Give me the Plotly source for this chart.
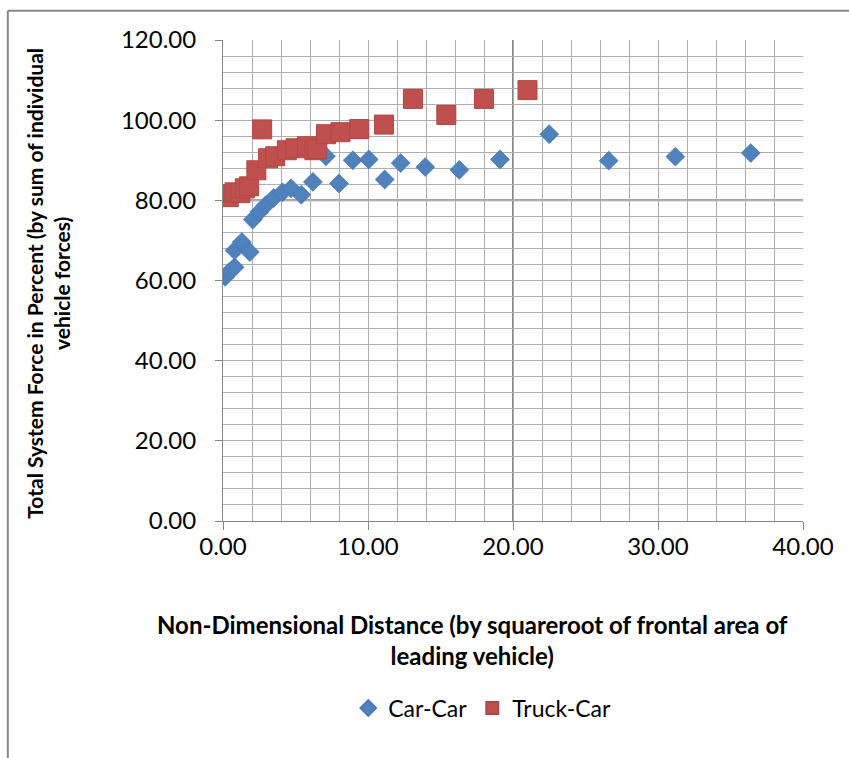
import plotly.graph_objects as go

# Car-Car measurements
car_x = [0.15, 0.45, 0.8, 0.8, 1.3, 1.85, 2.05, 2.5, 2.95, 3.5, 4.1, 4.7, 5.4, 6.2,
         7.1, 8.0, 8.95, 10.05, 11.15, 12.25, 13.95, 16.3, 19.1, 22.5, 26.6, 31.2, 36.4]
car_y = [60.9, 62.2, 63.3, 67.5, 69.6, 67.1, 75.2, 77.1, 78.8, 80.6, 82.0, 83.0, 81.4, 84.6,
         91.0, 84.2, 90.0, 90.2, 85.2, 89.3, 88.3, 87.6, 90.2, 96.5, 89.9, 90.9, 91.8]

# Truck-Car measurements
truck_x = [0.1, 0.4, 0.8, 1.2, 1.5, 1.8, 2.3, 2.7, 3.1, 3.6, 4.4, 5.0, 5.8, 6.3, 6.5,
           7.1, 8.1, 9.4, 11.1, 13.1, 15.4, 18.0, 21.0]
truck_y = [81.5, 80.8, 82.0, 81.8, 83.0, 83.5, 87.5, 97.7, 90.5, 91.0, 92.5, 93.0, 93.5,
           92.5, 92.8, 96.5, 97.0, 97.8, 98.9, 105.3, 101.3, 105.3, 107.5]

x_ticks = [0, 10, 20, 30, 40]
y_ticks = [0, 20, 40, 60, 80, 100, 120]

FONT = "Lato"
BLUE = "#4F81BD"
RED = "#C0504D"
GRID = "#AFAFAF"
DARK = "#868686"

fig = go.Figure()
fig.add_trace(go.Scatter(
    x=car_x, y=car_y, mode="markers", name="Car-Car",
    marker=dict(symbol="diamond", size=14.5, color=BLUE, line=dict(width=0.8, color="#4A7AB5")),
))
fig.add_trace(go.Scatter(
    x=truck_x, y=truck_y, mode="markers", name="Truck-Car",
    marker=dict(symbol="square", size=19, color=RED, line=dict(width=1, color="#B24845")),
))

# darker major grid lines
fig.add_shape(type="line", xref="x", yref="paper", x0=20, x1=20, y0=0, y1=1,
              line=dict(color=DARK, width=2), layer="below")
fig.add_shape(type="line", xref="paper", yref="y", x0=0, x1=1, y0=80, y1=80,
              line=dict(color=DARK, width=2), layer="below")

# chart frame
fig.add_shape(type="line", xref="paper", yref="paper", x0=-0.371, x1=1.5, y0=1.061, y1=1.061,
              line=dict(color=DARK, width=2))
fig.add_shape(type="line", xref="paper", yref="paper", x0=-0.371, x1=-0.371, y0=-1, y1=1.061,
              line=dict(color=DARK, width=2))

fig.add_annotation(
    text="Non-Dimensional Distance (by squareroot of frontal area of<br>leading vehicle)",
    xref="paper", yref="paper", x=0.431, y=-0.247, xanchor="center", yanchor="middle",
    showarrow=False, font=dict(family=FONT, size=24, color="#000000", weight="bold"),
)
fig.add_annotation(
    text="Total System Force in Percent (by sum of individual<br>vehicle forces)",
    xref="paper", yref="paper", x=-0.302, y=0.495, xanchor="center", yanchor="middle",
    textangle=-90, showarrow=False,
    font=dict(family=FONT, size=21, color="#000000", weight="bold"),
)

fig.update_layout(
    width=849, height=758,
    margin=dict(l=223, r=46, t=40, b=237),
    paper_bgcolor="white", plot_bgcolor="white",
    font=dict(family=FONT, size=24, color="#000000"),
    showlegend=True,
    legend=dict(orientation="h", x=0.447, y=-0.389, xanchor="center", yanchor="middle",
                font=dict(family=FONT, size=23), itemsizing="constant"),
    xaxis=dict(
        range=[0, 40], tickvals=x_ticks, ticktext=[f"{v:.2f}" for v in x_ticks],
        showgrid=False, zeroline=False,
        showline=True, linecolor=DARK, linewidth=1,
        ticks="outside", ticklen=8, tickcolor=DARK, ticklabelstandoff=-4,
        minor=dict(dtick=2, showgrid=True, gridcolor=GRID, gridwidth=1),
    ),
    yaxis=dict(
        range=[0, 120], tickvals=y_ticks, ticktext=[f"{v:.2f}" for v in y_ticks],
        showgrid=False, zeroline=False,
        showline=True, linecolor=DARK, linewidth=1,
        ticks="outside", ticklen=7, tickcolor=DARK, ticklabelstandoff=14,
        minor=dict(dtick=4, showgrid=True, gridcolor=GRID, gridwidth=1),
    ),
)

fig.write_html("out.html")
